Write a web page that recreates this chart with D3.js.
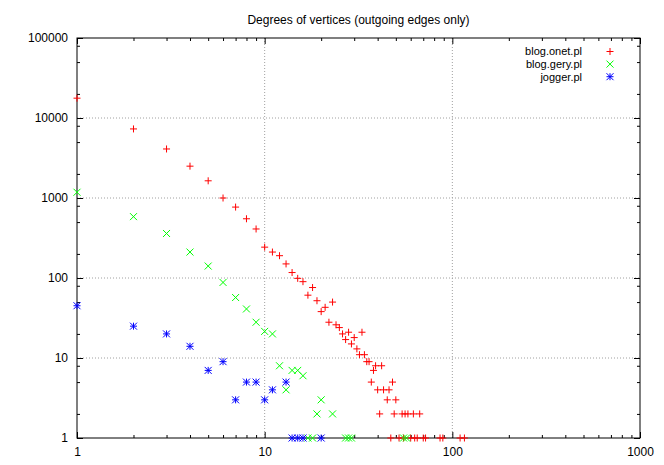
<!DOCTYPE html>
<html>
<head>
<meta charset="utf-8">
<script src="https://cdn.jsdelivr.net/npm/d3@7"></script>
<style>
  body { margin: 0; background: #fff; }
  text { font-family: "Liberation Sans", Arial, sans-serif; font-size: 12px; fill: #000; }
</style>
</head>
<body>
<div id="chart"></div>
<script>
// degree -> number of vertices
var onetDeg = [1,2,3,4,5,6,7,8,9,10,11,12,13,14,15,16,17,18,19,20,21,22,23,24,25,26,27,28,29,30,
               31,32,33,34,35,36,37,38,39,40,41,42,43,45,46,47,48,49,50,52,54,55,56,58,60,62,63,65,67,70,72,86,89,110,116];
var onetCnt = [17700,7300,4100,2500,1640,1000,770,550,410,243,211,190,150,117,99,90,61,76,52,38,43,28,50,26,24,20,17,21,15,18,
               13,11,21,11,9,9,5,7,8,4,2,8,4,3,4,1,5,2,3,1,2,1,2,2,1,2,1,1,2,1,1,1,1,1,1];

var geryDeg = [1,2,3,4,5,6,7,8,9,10,11,12,13,14,15,16,17,18,19,20,23,27,28,29,55,57];
var geryCnt = [1180,585,360,211,141,88,57,41,28,21.5,20,8,4,7,7,6,1,1,2,3,2,1,1,1,1,1];

var joggerDeg = [1,2,3,4,5,6,7,8,9,10,11,13,14,15,16,20];
var joggerCnt = [45,25,20,14,7,9,3,5,5,3,4,5,1,1,1,1];

var seriesNames = ["blog.onet.pl", "blog.gery.pl", "jogger.pl"];
var xMajor = [1, 10, 100, 1000];
var yMajor = [1, 10, 100, 1000, 10000, 100000];

var svgW = 664, svgH = 465;
var margin = { top: 38, right: 24, bottom: 27, left: 77 };
var w = svgW - margin.left - margin.right;
var h = svgH - margin.top - margin.bottom;

var svg = d3.select("#chart").append("svg")
    .attr("width", svgW).attr("height", svgH);

var g = svg.append("g")
    .attr("transform", `translate(${margin.left}, ${margin.top})`);

var x = d3.scaleLog().domain([1, 1000]).range([0, w]);
var y = d3.scaleLog().domain([1, 100000]).range([h, 0]);

// minor ticks: 2..9 per decade on x, 2,5,8 on y (as in the picture)
var xMinor = [];
[1, 10, 100].forEach(function(b) { for (var k = 2; k <= 9; k++) xMinor.push(b * k); });
var yMinor = [];
[1, 10, 100, 1000, 10000].forEach(function(b) { [2, 5, 8].forEach(function(k) { yMinor.push(b * k); }); });

// grid
g.selectAll(".gx").data(xMajor.slice(1, -1)).enter().append("line")
    .attr("x1", d => x(d)).attr("x2", d => x(d)).attr("y1", 0).attr("y2", h)
    .attr("stroke", "#a0a0a0").attr("stroke-dasharray", "1,2");
g.selectAll(".gy").data(yMajor.slice(1, -1)).enter().append("line")
    .attr("x1", 0).attr("x2", w).attr("y1", d => y(d)).attr("y2", d => y(d))
    .attr("stroke", "#a0a0a0").attr("stroke-dasharray", "1,2");

function styleAxis(sel) {
    sel.select(".domain").remove();
    sel.selectAll("line").attr("stroke", "#000");
    sel.selectAll("text").attr("font-family", null).attr("font-size", null);
}

// bottom / left with labels
g.append("g").attr("transform", `translate(0, ${h})`)
    .call(d3.axisBottom(x).tickValues(xMajor).tickFormat(d3.format("d")).tickSize(-6).tickPadding(9))
    .call(styleAxis);
g.append("g").attr("transform", `translate(0, ${h})`)
    .call(d3.axisBottom(x).tickValues(xMinor).tickFormat("").tickSize(-3))
    .call(styleAxis);
g.append("g")
    .call(d3.axisLeft(y).tickValues(yMajor).tickFormat(d3.format("d")).tickSize(-6).tickPadding(9))
    .call(styleAxis);
g.append("g")
    .call(d3.axisLeft(y).tickValues(yMinor).tickFormat("").tickSize(-3))
    .call(styleAxis);

// mirrored ticks top / right
g.append("g").call(d3.axisTop(x).tickValues(xMajor).tickFormat("").tickSize(-6)).call(styleAxis);
g.append("g").call(d3.axisTop(x).tickValues(xMinor).tickFormat("").tickSize(-3)).call(styleAxis);
g.append("g").attr("transform", `translate(${w}, 0)`)
    .call(d3.axisRight(y).tickValues(yMajor).tickFormat("").tickSize(-6)).call(styleAxis);
g.append("g").attr("transform", `translate(${w}, 0)`)
    .call(d3.axisRight(y).tickValues(yMinor).tickFormat("").tickSize(-3)).call(styleAxis);

g.append("rect").attr("width", w).attr("height", h)
    .attr("fill", "none").attr("stroke", "#000");

// point shapes like gnuplot: +, x, *
var s = 3.5;
var plus = `M${-s},0H${s}M0,${-s}V${s}`;
var cross = `M${-s},${-s}L${s},${s}M${-s},${s}L${s},${-s}`;
var star = plus + cross;

var series = [
    { name: seriesNames[0], deg: onetDeg, cnt: onetCnt, color: "#ff0000", shape: plus },
    { name: seriesNames[1], deg: geryDeg, cnt: geryCnt, color: "#00ff00", shape: cross },
    { name: seriesNames[2], deg: joggerDeg, cnt: joggerCnt, color: "#0000ff", shape: star }
];

series.forEach(function(sr) {
    g.append("g").selectAll("path")
        .data(sr.deg.map((d, i) => [d, sr.cnt[i]]))
        .enter().append("path")
        .attr("d", sr.shape)
        .attr("transform", d => `translate(${x(d[0])}, ${y(d[1])})`)
        .attr("fill", "none").attr("stroke", sr.color).attr("stroke-width", 1);
});

// legend
var legend = g.append("g").attr("transform", "translate(0, 13.5)");
series.forEach(function(sr, i) {
    legend.append("text")
        .attr("x", 505).attr("y", i * 12.6).attr("dy", "0.35em")
        .attr("text-anchor", "end").style("font-size", "11px").text(sr.name);
    legend.append("path")
        .attr("d", sr.shape)
        .attr("transform", `translate(533, ${i * 12.6})`)
        .attr("fill", "none").attr("stroke", sr.color);
});

// title
svg.append("text")
    .attr("x", margin.left + w / 2).attr("y", 24)
    .attr("text-anchor", "middle")
    .text("Degrees of vertices (outgoing edges only)");
</script>
</body>
</html>
